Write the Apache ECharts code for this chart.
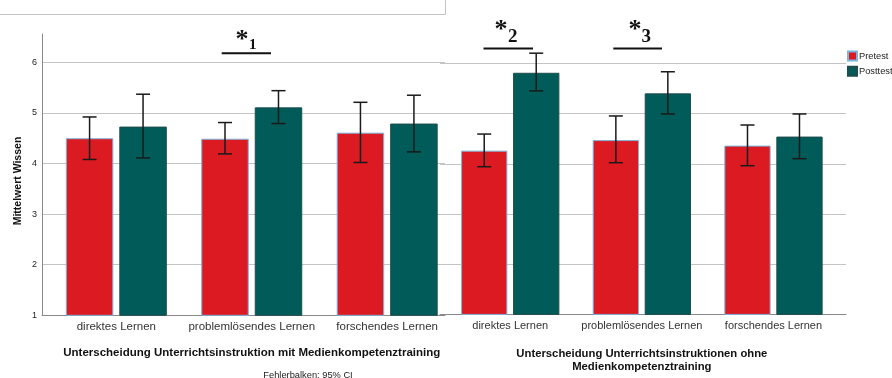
<!DOCTYPE html>
<html>
<head>
<meta charset="utf-8">
<script src="https://cdn.jsdelivr.net/npm/echarts@6/dist/echarts.min.js"></script>
<style>html,body{margin:0;padding:0;background:#fff}#c{width:892px;height:378px}</style>
</head>
<body>
<div id="c"></div>
<script>
// ---- data ----
const categories = ['direktes Lernen', 'problemlösendes Lernen', 'forschendes Lernen'];
const seriesNames = ['Pretest', 'Posttest'];
// with media competence training (left panel)
const withPre = [4.50, 4.49, 4.61];
const withPreLow = [4.08, 4.19, 4.02];
const withPreHigh = [4.92, 4.81, 5.21];
const withPost = [4.73, 5.11, 4.79];
const withPostLow = [4.11, 4.79, 4.23];
const withPostHigh = [5.37, 5.44, 5.35];
// without media competence training (right panel)
const withoutPre = [4.26, 4.47, 4.36];
const withoutPreLow = [3.94, 4.02, 3.96];
const withoutPreHigh = [4.59, 4.95, 4.77];
const withoutPost = [5.81, 5.40, 4.54];
const withoutPostLow = [5.45, 4.99, 4.10];
const withoutPostHigh = [6.20, 5.83, 4.99];
const yTicks = [1, 2, 3, 4, 5, 6];
const yMin = 1, yMax = 6.56;
const titleLeft = 'Unterscheidung Unterrichtsinstruktion mit Medienkompetenztraining';
const titleRight = 'Unterscheidung Unterrichtsinstruktionen ohne\nMedienkompetenztraining';
const yName = 'Mittelwert Wissen';
const footnote = 'Fehlerbalken: 95% CI';
const sigMarks = [
  {star: '*', sub: '1'}, {star: '*', sub: '2'}, {star: '*', sub: '3'}
];

// ---- styles ----
const RED = '#dc1a22', TEAL = '#005b59';
const FONT = '"Liberation Sans", Arial, sans-serif';
const SERIF = '"Liberation Serif", "Times New Roman", serif';
const gridColors = ['#c4c4c4','#c4c4c4','#c4c4c4','#c4c4c4','#c4c4c4','#c4c4c4','rgba(0,0,0,0)'];

const chart = echarts.init(document.getElementById('c'));

function ciData(low, high) {
  return low.map((l, i) => [i, l, high[i]]);
}
function errRender(sign, barW, gapFrac) {
  return function (params, api) {
    const i = api.value(0);
    const pLo = api.coord([i, api.value(1)]);
    const pHi = api.coord([i, api.value(2)]);
    const cx = pLo[0] + sign * barW * (1 + gapFrac) / 2;
    const half = 7;
    const st = {stroke: '#1a1a1a', lineWidth: 1.5};
    return {
      type: 'group',
      children: [
        {type: 'line', shape: {x1: cx, y1: pLo[1], x2: cx, y2: pHi[1]}, style: st},
        {type: 'line', shape: {x1: cx - half, y1: pHi[1], x2: cx + half, y2: pHi[1]}, style: st},
        {type: 'line', shape: {x1: cx - half, y1: pLo[1], x2: cx + half, y2: pLo[1]}, style: st}
      ]
    };
  };
}

const LBW = 47.5, LGAP = 0.126, RBW = 46.3, RGAP = 0.123;

const frameY = (idx, showLine, showLabel) => ({
  type: 'value', gridIndex: idx, min: yMin, max: yMax, interval: 1,
  axisLine: {show: showLine, lineStyle: {color: '#8a8a8a', width: 1}},
  axisTick: {show: false},
  axisLabel: {show: showLabel, fontSize: 9, color: '#222', fontFamily: FONT, margin: 5,
    formatter: v => (yTicks.indexOf(v) >= 0 ? String(v) : '')},
  splitLine: {show: true, lineStyle: {color: gridColors, width: 1}}
});
const hiddenY = idx => ({
  type: 'value', gridIndex: idx, min: yMin, max: yMax, interval: 1,
  axisLine: {show: false}, axisTick: {show: false}, axisLabel: {show: false}, splitLine: {show: false}
});

const option = {
  animation: false,
  backgroundColor: '#fff',
  grid: [
    {left: 42, top: 34, width: 403, height: 281.3},
    {left: 48.6, top: 34, width: 406.3, height: 281.3},
    {left: 440, top: 35.1, width: 406, height: 279.6},
    {left: 444.4, top: 35.1, width: 394.9, height: 279.6}
  ],
  xAxis: [
    {type: 'value', gridIndex: 0, min: 0, max: 1, axisLine: {show: true, onZero: false, lineStyle: {color: '#8a8a8a'}},
      axisTick: {show: false}, axisLabel: {show: false}, splitLine: {show: false}},
    {type: 'category', gridIndex: 1, data: categories,
      axisLine: {show: false}, axisTick: {show: false},
      axisLabel: {fontSize: 11.5, color: '#333', fontFamily: FONT, margin: 6, interval: 0},
      name: titleLeft, nameLocation: 'middle', nameGap: 31.5,
      nameTextStyle: {fontSize: 11.5, fontWeight: 'bold', color: '#111', fontFamily: FONT, lineHeight: 13}},
    {type: 'value', gridIndex: 2, min: 0, max: 1, axisLine: {show: true, onZero: false, lineStyle: {color: '#8a8a8a'}},
      axisTick: {show: false}, axisLabel: {show: false}, splitLine: {show: false}},
    {type: 'category', gridIndex: 3, data: categories,
      axisLine: {show: false}, axisTick: {show: false},
      axisLabel: {fontSize: 11, color: '#333', fontFamily: FONT, margin: 6.5, interval: 0},
      name: titleRight, nameLocation: 'middle', nameGap: 33.2,
      nameTextStyle: {fontSize: 11.3, fontWeight: 'bold', color: '#111', fontFamily: FONT, lineHeight: 12.7}}
  ],
  yAxis: [frameY(0, true, true), hiddenY(1), frameY(2, false, false), hiddenY(3)],
  legend: {
    data: seriesNames, orient: 'vertical', left: 847, top: 50.5, padding: 0,
    itemWidth: 9, itemHeight: 9, itemGap: 4.3, icon: 'rect', selectedMode: false,
    textStyle: {fontSize: 9.3, color: '#222', fontFamily: FONT, padding: [0, 0, 0, -3]}
  },
  series: [
    {name: seriesNames[0], type: 'bar', xAxisIndex: 1, yAxisIndex: 1, data: withPre, barWidth: LBW, barGap: (LGAP * 100) + '%',
      itemStyle: {color: RED, borderColor: '#7db4dc', borderWidth: 1}},
    {name: seriesNames[1], type: 'bar', xAxisIndex: 1, yAxisIndex: 1, data: withPost, barWidth: LBW, barGap: (LGAP * 100) + '%',
      itemStyle: {color: TEAL, borderColor: '#1f4d4c', borderWidth: 1}},
    {name: seriesNames[0], type: 'bar', xAxisIndex: 3, yAxisIndex: 3, data: withoutPre, barWidth: RBW, barGap: (RGAP * 100) + '%',
      itemStyle: {color: RED, borderColor: '#7db4dc', borderWidth: 1}},
    {name: seriesNames[1], type: 'bar', xAxisIndex: 3, yAxisIndex: 3, data: withoutPost, barWidth: RBW, barGap: (RGAP * 100) + '%',
      itemStyle: {color: TEAL, borderColor: '#1f4d4c', borderWidth: 1}},
    {type: 'custom', xAxisIndex: 1, yAxisIndex: 1, data: ciData(withPreLow, withPreHigh), renderItem: errRender(-1, LBW, LGAP), z: 5},
    {type: 'custom', xAxisIndex: 1, yAxisIndex: 1, data: ciData(withPostLow, withPostHigh), renderItem: errRender(1, LBW, LGAP), z: 5},
    {type: 'custom', xAxisIndex: 3, yAxisIndex: 3, data: ciData(withoutPreLow, withoutPreHigh), renderItem: errRender(-1, RBW, RGAP), z: 5},
    {type: 'custom', xAxisIndex: 3, yAxisIndex: 3, data: ciData(withoutPostLow, withoutPostHigh), renderItem: errRender(1, RBW, RGAP), z: 5}
  ],
  graphic: [
    {type: 'polyline', shape: {points: [[0, 14.5], [445.5, 14.5], [445.5, 0]]}, style: {stroke: '#c4c4c4', fill: null, lineWidth: 1}, silent: true},
    {type: 'text', rotation: Math.PI / 2, x: 18, y: 181, style: {text: yName, fontSize: 10.5, fontWeight: 'bold', fill: '#111', fontFamily: FONT, textAlign: 'center', textVerticalAlign: 'middle'}},
    {type: 'text', x: 308, y: 375, style: {text: footnote, fontSize: 9.3, fill: '#222', fontFamily: FONT, textAlign: 'center', textVerticalAlign: 'middle'}},
    // significance marks
    {type: 'line', shape: {x1: 221.7, y1: 53.3, x2: 271, y2: 53.3}, style: {stroke: '#111', lineWidth: 2}},
    {type: 'text', x: 235.5, y: 40.5, style: {text: sigMarks[0].star, fontSize: 26, fontWeight: 'bold', fill: '#111', fontFamily: SERIF, textAlign: 'left', textVerticalAlign: 'middle'}},
    {type: 'text', x: 249, y: 45.3, style: {text: sigMarks[0].sub, fontSize: 15, fontWeight: 'bold', fill: '#111', fontFamily: SERIF, textAlign: 'left', textVerticalAlign: 'middle'}},
    {type: 'line', shape: {x1: 483.5, y1: 48.5, x2: 533, y2: 48.5}, style: {stroke: '#111', lineWidth: 2}},
    {type: 'text', x: 494.5, y: 30.5, style: {text: sigMarks[1].star, fontSize: 26, fontWeight: 'bold', fill: '#111', fontFamily: SERIF, textAlign: 'left', textVerticalAlign: 'middle'}},
    {type: 'text', x: 508, y: 37, style: {text: sigMarks[1].sub, fontSize: 19, fontWeight: 'bold', fill: '#111', fontFamily: SERIF, textAlign: 'left', textVerticalAlign: 'middle'}},
    {type: 'line', shape: {x1: 613.3, y1: 48.5, x2: 662, y2: 48.5}, style: {stroke: '#111', lineWidth: 2}},
    {type: 'text', x: 628.5, y: 30.5, style: {text: sigMarks[2].star, fontSize: 26, fontWeight: 'bold', fill: '#111', fontFamily: SERIF, textAlign: 'left', textVerticalAlign: 'middle'}},
    {type: 'text', x: 641.5, y: 37.5, style: {text: sigMarks[2].sub, fontSize: 19, fontWeight: 'bold', fill: '#111', fontFamily: SERIF, textAlign: 'left', textVerticalAlign: 'middle'}}
  ]
};
chart.setOption(option);
</script>
</body>
</html>
